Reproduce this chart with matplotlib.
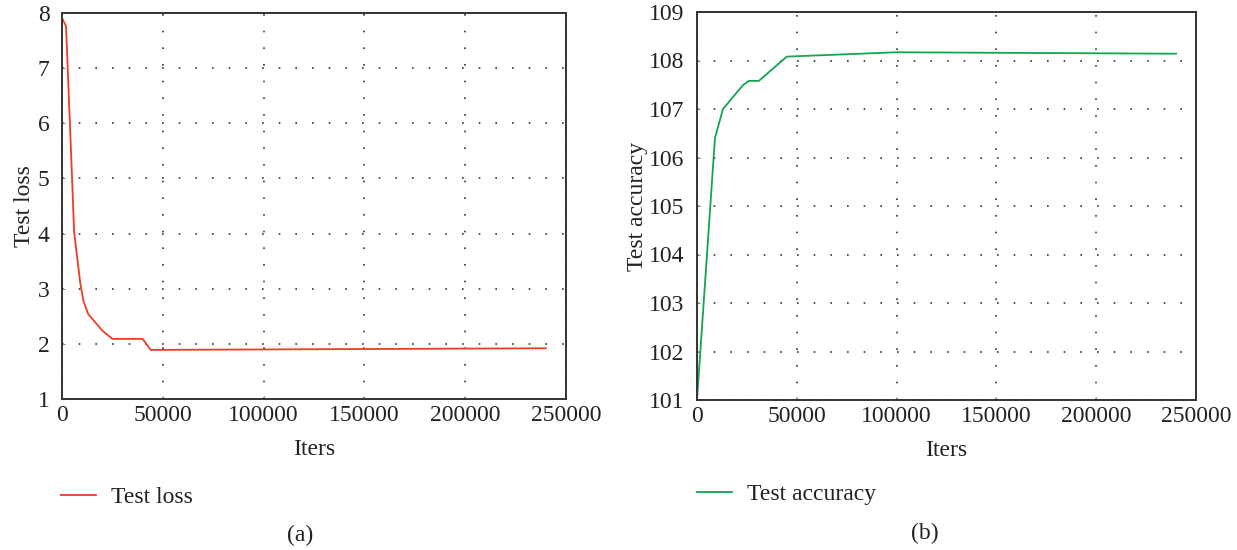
import matplotlib
matplotlib.use('Agg')
import matplotlib.pyplot as plt

plt.rcParams['font.family'] = ['Liberation Serif', 'DejaVu Serif']

# Test loss curve (a)
loss_iters = [0, 2000, 5000, 6000, 9000, 10600, 13000, 20000, 25000, 40000, 44000, 240000]
loss_vals = [7.91, 7.76, 5.0, 4.03, 3.12, 2.78, 2.54, 2.24, 2.09, 2.09, 1.89, 1.92]

# Test accuracy curve (b)
acc_iters = [0, 9000, 13000, 23000, 26000, 31000, 45000, 100000, 240000]
acc_vals = [101.0, 106.4, 107.0, 107.49, 107.58, 107.58, 108.08, 108.17, 108.14]

W, H = 1237, 550
fig = plt.figure(figsize=(W / 100, H / 100), dpi=100)

FS = 17
TXT = '#222222'


def setup(ax, ylo, yhi):
    ax.set_xlim(0, 250000)
    ax.set_ylim(ylo, yhi)
    ax.set_xticks([0, 50000, 100000, 150000, 200000, 250000])
    ax.set_yticks(range(ylo, yhi + 1))
    ax.tick_params(direction='in', length=2, width=0.8, color='#888888',
                   labelsize=FS, labelcolor=TXT)
    ax.tick_params(axis='x', pad=4)
    ax.tick_params(axis='y', pad=9)
    ax.grid(True, linestyle=(0, (1, 9)), color='#333333', linewidth=1.2)
    for s in ax.spines.values():
        s.set_linewidth(1.4)
        s.set_color('#333333')
        s.set_zorder(3)
    ax.set_xlabel('Iters', fontsize=FS, labelpad=10, color=TXT)


# Left panel
ax1 = fig.add_axes([62 / W, 1 - 399 / H, (566 - 62) / W, (399 - 13) / H])
ax1.plot(loss_iters, loss_vals, color='#ee3d23', linewidth=1.3, label='Test loss')
setup(ax1, 1, 8)
ax1.set_ylabel('Test loss', fontsize=FS, labelpad=2, color=TXT)
leg1 = ax1.legend(loc='center left', bbox_to_anchor=(61 / W, 1 - 497 / H),
                  bbox_transform=fig.transFigure, frameon=False, fontsize=FS,
                  handlelength=1.5, handletextpad=0.6, borderpad=0,
                  borderaxespad=0)
fig.text(300 / W, 1 - 535 / H, '(a)', ha='center', va='center', fontsize=FS,
         color=TXT)

# Right panel
ax2 = fig.add_axes([697 / W, 1 - 400 / H, (1196 - 697) / W, (400 - 12) / H])
ax2.plot(acc_iters, acc_vals, color='#12a650', linewidth=1.3, label='Test accuracy')
setup(ax2, 101, 109)
ax2.set_ylabel('Test accuracy', fontsize=FS, labelpad=1, color=TXT)
leg2 = ax2.legend(loc='center left', bbox_to_anchor=(697 / W, 1 - 494 / H),
                  bbox_transform=fig.transFigure, frameon=False, fontsize=FS,
                  handlelength=1.5, handletextpad=0.6, borderpad=0,
                  borderaxespad=0)
fig.text(925 / W, 1 - 533 / H, '(b)', ha='center', va='center', fontsize=FS,
         color=TXT)

for leg in (leg1, leg2):
    for t in leg.get_texts():
        t.set_color(TXT)

fig.savefig('out.png', dpi=100)
